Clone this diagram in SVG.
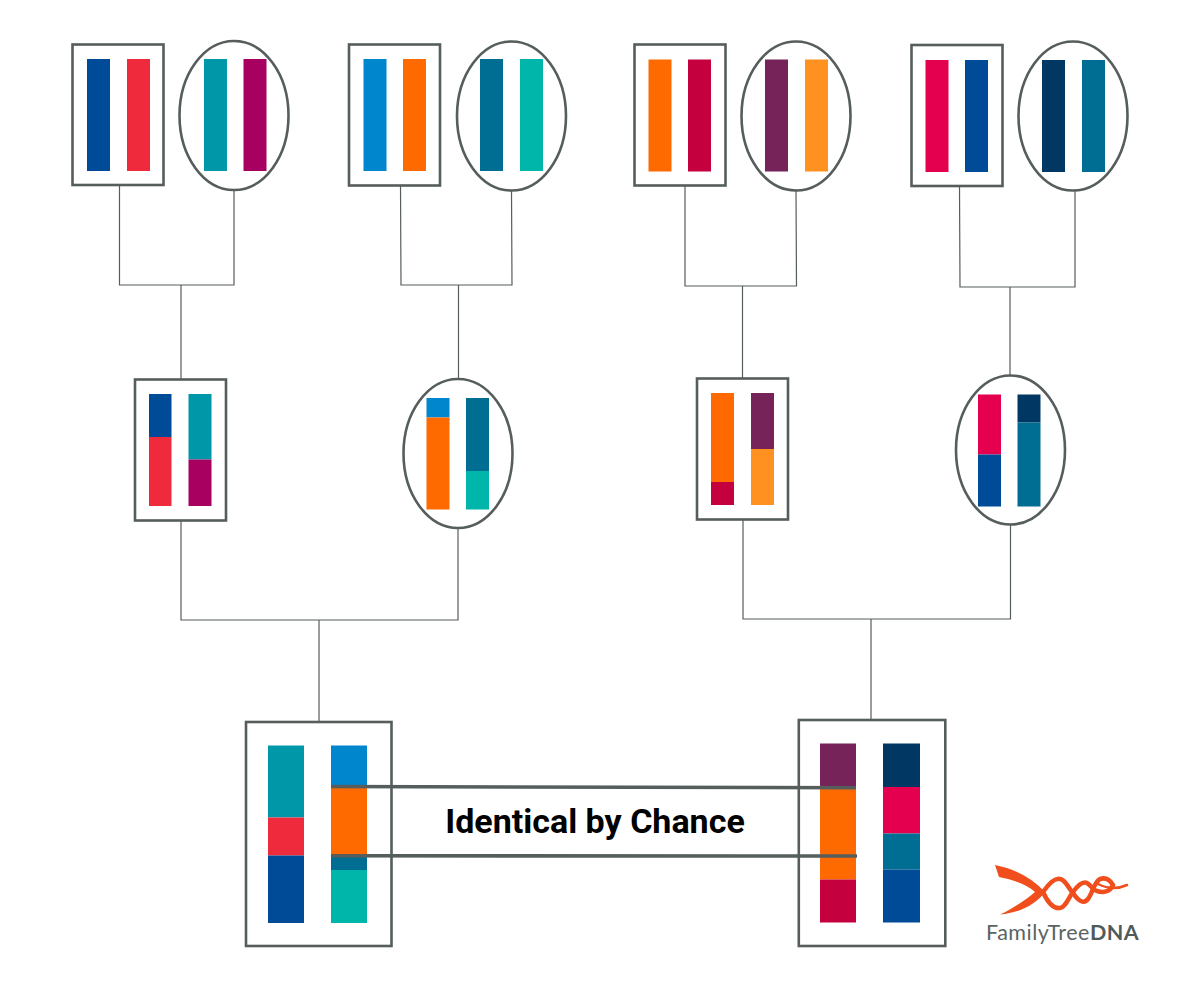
<svg xmlns="http://www.w3.org/2000/svg" width="1200" height="1006" viewBox="0 0 1200 1006">
<style>
.s{fill:#fff;stroke:#565d5d;stroke-width:2.6}
.l{fill:none;stroke:#565d5d;stroke-width:1.2}
.b{fill:none;stroke:#565d5d;stroke-width:3.6}
.h{fill:none;stroke:#f04e1c;stroke-linecap:round}
text{font-family:"Roboto","Liberation Sans",sans-serif}
</style>
<rect width="1200" height="1006" fill="#fff"/>
<g id="connectors">
<path class="l" d="M119.500 185V285H234V190M181 285V380"/>
<path class="l" d="M400.500 185L401 285H512L511.500 190M458.500 285V379"/>
<path class="l" d="M685 185V286H796.500L796 190M742.500 286V378"/>
<path class="l" d="M959.500 186L960 287H1075V190M1010 287V376"/>
<path class="l" d="M181 520V620H458V528M319 620V722"/>
<path class="l" d="M743 519V619H1010.500V524M871 619V720"/>
</g>
<g id="n1"><rect class="s" x="72.500" y="44.500" width="91" height="140.500"/><rect x="87" y="59" width="23" height="112" fill="#004b97"/><rect x="127" y="59" width="23" height="112" fill="#ef2a3c"/></g>
<g id="n2"><ellipse class="s" cx="234" cy="115.500" rx="54.500" ry="74.500"/><rect x="204" y="59" width="23" height="112" fill="#0097a9"/><rect x="243.500" y="59" width="23" height="112" fill="#a80060"/></g>
<g id="n3"><rect class="s" x="349" y="44.500" width="91" height="141" /><rect x="363.500" y="59" width="23" height="112" fill="#0086cd"/><rect x="403" y="59" width="23" height="112" fill="#ff6a00"/></g>
<g id="n4"><ellipse class="s" cx="511.500" cy="116" rx="54.500" ry="74.500"/><rect x="480" y="59" width="23" height="112" fill="#006d92"/><rect x="520" y="59" width="23" height="112" fill="#00b5a9"/></g>
<g id="n5"><rect class="s" x="634.500" y="44.500" width="91" height="141"/><rect x="648.500" y="59.500" width="23" height="112" fill="#ff6a00"/><rect x="688" y="59.500" width="23" height="112" fill="#c4003f"/></g>
<g id="n6"><ellipse class="s" cx="796" cy="116" rx="54.500" ry="74.500"/><rect x="765" y="59.500" width="23" height="112" fill="#752358"/><rect x="805" y="59.500" width="23" height="112" fill="#ff9120"/></g>
<g id="n7"><rect class="s" x="911.500" y="45" width="91" height="141"/><rect x="925.500" y="60" width="23" height="112" fill="#e4004f"/><rect x="965" y="60" width="23" height="112" fill="#004b97"/></g>
<g id="n8"><ellipse class="s" cx="1073" cy="116" rx="54.500" ry="74.500"/><rect x="1042" y="60" width="23" height="112" fill="#003863"/><rect x="1082" y="60" width="23" height="112" fill="#006d92"/></g>
<g id="n9"><rect class="s" x="135" y="379.500" width="91" height="141"/>
<rect x="149" y="394" width="22.500" height="43" fill="#004b97"/><rect x="149" y="437" width="22.500" height="69" fill="#ef2a3c"/>
<rect x="188.500" y="394" width="23" height="65.500" fill="#0097a9"/><rect x="188.500" y="459.500" width="23" height="46.500" fill="#a80060"/></g>
<g id="n10"><ellipse class="s" cx="458" cy="453.500" rx="54.500" ry="74.500"/>
<rect x="426.500" y="398" width="23" height="19.500" fill="#0086cd"/><rect x="426.500" y="417.500" width="23" height="92" fill="#ff6a00"/>
<rect x="466" y="398" width="23" height="73" fill="#006d92"/><rect x="466" y="471" width="23" height="38.500" fill="#00b5a9"/></g>
<g id="n11"><rect class="s" x="697" y="378.500" width="91" height="141"/>
<rect x="711" y="393" width="23" height="89" fill="#ff6a00"/><rect x="711" y="482" width="23" height="23" fill="#c4003f"/>
<rect x="751" y="393" width="23" height="56" fill="#752358"/><rect x="751" y="449" width="23" height="56" fill="#ff9120"/></g>
<g id="n12"><ellipse class="s" cx="1010.500" cy="450" rx="54.500" ry="74.500"/>
<rect x="978" y="394.500" width="23" height="60" fill="#e4004f"/><rect x="978" y="454.500" width="23" height="52" fill="#004b97"/>
<rect x="1017.500" y="394.500" width="23" height="28" fill="#003863"/><rect x="1017.500" y="422.500" width="23" height="84" fill="#006d92"/></g>
<g id="n13"><rect class="s" x="246" y="722" width="145.500" height="224"/>
<rect x="268" y="745.500" width="36" height="72" fill="#0097a9"/><rect x="268" y="817.500" width="36" height="38" fill="#ef2a3c"/><rect x="268" y="855.500" width="36" height="67.500" fill="#004b97"/>
<rect x="331" y="745.500" width="36" height="41" fill="#0086cd"/><rect x="331" y="786.500" width="36" height="69" fill="#ff6a00"/><rect x="331" y="855.500" width="36" height="14.500" fill="#006d92"/><rect x="331" y="870" width="36" height="53" fill="#00b5a9"/></g>
<g id="n14"><rect class="s" x="798.800" y="720" width="146.500" height="226"/>
<rect x="820" y="743.500" width="36" height="44" fill="#752358"/><rect x="820" y="787.500" width="36" height="92" fill="#ff6a00"/><rect x="820" y="879.500" width="36" height="43" fill="#c4003f"/>
<rect x="883" y="743.500" width="37" height="43.500" fill="#003863"/><rect x="883" y="787" width="37" height="46.500" fill="#e4004f"/><rect x="883" y="833.500" width="37" height="36" fill="#006d92"/><rect x="883" y="869.500" width="37" height="53" fill="#004b97"/></g>
<g id="ibc"><path class="b" d="M331 786.500L856 787.800M331 855.800L857 856"/>
<text x="595" y="833" font-size="34" font-weight="700" text-anchor="middle" fill="#000">Identical by Chance</text></g>
<g id="logo">
<path d="M995 865C1015 869 1032 878 1045 892C1036 904 1020 913 1000 914.500C1012 909 1027 899 1035 892C1026 884 1010 879 999 877Z" fill="#f04e1c"/>
<path class="h" stroke-width="4.500" d="M1043 892C1050 882 1056 878 1060 879C1066 880 1068 888 1073 893C1079 902 1084 904 1088 899C1093 892 1094 882 1100 879C1106 877 1110 880 1113 885"/>
<path class="h" stroke-width="4.500" d="M1043 892C1048 903 1054 909 1060 908C1066 907 1068 898 1073 892C1078 885 1083 881 1087 883C1092 886 1092 890 1097 891C1103 893 1110 892 1113 885"/>
<path class="h" stroke-width="2.500" d="M1098 884C1106 888 1116 890 1127 885"/>
<text x="986" y="940" font-size="21.500" fill="#5a6464" style="font-family:Lato,'Open Sans',sans-serif" letter-spacing=".5">FamilyTree<tspan font-weight="700" fill="#505a5a">DNA</tspan></text>
</g>
</svg>
